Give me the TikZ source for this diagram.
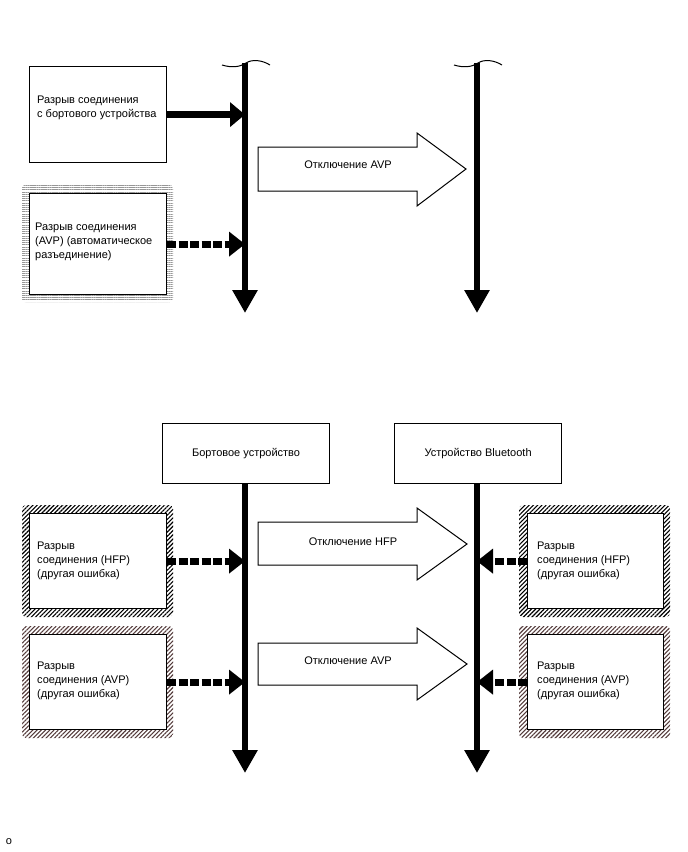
\documentclass[tikz,border=0pt]{standalone}
\usepackage{fontspec}
\setmainfont{Liberation Sans}
\usetikzlibrary{arrows.meta,patterns.meta}
\definecolor{hatchbrown}{RGB}{85,60,60}
\definecolor{hatchgray}{RGB}{150,150,150}
\begin{document}
\begin{tikzpicture}[x=1pt,y=-1pt,
  box/.style={draw=black,line width=1.2pt,fill=white,minimum width=137pt,minimum height=96pt,anchor=north west,inner sep=0pt},
  headbox/.style={draw=black,line width=1.2pt,fill=white,minimum width=167pt,minimum height=60pt,anchor=north west,inner sep=0pt,font=\fontsize{11pt}{14pt}\selectfont},
  txt/.style={anchor=west,align=left,font=\fontsize{11pt}{14pt}\selectfont,inner sep=0pt},
  ctxt/.style={anchor=center,font=\fontsize{11pt}{14pt}\selectfont,inner sep=0pt},
  lifeline/.style={line width=6pt,-{Triangle[length=23pt,width=24pt]}},
  solidconn/.style={line width=7pt,-{Triangle[length=15pt,width=24pt]}},
  dashconn/.style={line width=7pt,dash pattern=on 9pt off 2.5pt,-{Triangle[length=16pt,width=24pt]}},
  bigarrow/.style={draw=black,line width=1pt,fill=white,line join=miter},
  wave/.style={line width=1pt},
  hatchblack/.style={rounded corners=4pt,pattern={Lines[angle=45,distance=3pt,line width=1.1pt]},pattern color=black},
  hatchbr/.style={rounded corners=4pt,pattern={Lines[angle=45,distance=3pt,line width=1.1pt]},pattern color=hatchbrown},
  hatchgr/.style={rounded corners=3pt,pattern={Lines[angle=0,distance=2.2pt,line width=0.9pt]},pattern color=hatchgray}
]
\useasboundingbox (0,0) rectangle (688,852);

% ---------- top section ----------
\coordinate (t1top) at (245,63);
\coordinate (t1bot) at (245,313);
\coordinate (t2top) at (477,63);
\coordinate (t2bot) at (477,313);
\draw[lifeline] (t1top) -- (t1bot);
\draw[lifeline] (t2top) -- (t2bot);
\draw[wave] (222,65) .. controls (232,68) and (240,67) .. (246,63) .. controls (252,59) and (262,60) .. (270,65);
\draw[wave] (454,65) .. controls (464,68) and (472,67) .. (478,63) .. controls (484,59) and (494,60) .. (502,65);

\node[box] (b1) at (29,66) {};
\node[txt] (b1t) at (37,108) {Разрыв соединения\\с бортового устройства};

\fill[hatchgr] (22,185) rectangle (173,302);
\node[box,minimum height=101pt] (b2) at (29,193) {};
\node[txt] (b2t) at (35,242) {Разрыв соединения\\(AVP) (автоматическое\\разъединение)};

\draw[solidconn] (b1.east) -- (b1.east -| t1top);
\draw[dashconn] (b2.east) -- (b2.east -| t1top);

\draw[bigarrow] (258,147) -- (417,147) -- (417,133) -- (466,169) -- (417,206) -- (417,191) -- (258,191) -- cycle;
\node[ctxt] (a1t) at (348,165) {Отключение AVP};

% ---------- bottom section ----------
\node[headbox] (h1) at (162,423) {Бортовое устройство};
\node[headbox] (h2) at (394,423) {Устройство Bluetooth};
\coordinate (l1bot) at (245,773);
\coordinate (l2bot) at (477,773);
\draw[lifeline] (h1.south -| l1bot) -- (l1bot);
\draw[lifeline] (h2.south -| l2bot) -- (l2bot);

\fill[hatchblack] (22,505) rectangle (173,617);
\node[box,minimum height=95pt] (c1) at (29,513) {};
\node[txt] (c1t) at (37,561) {Разрыв\\соединения (HFP)\\(другая ошибка)};

\fill[hatchbr] (22,626) rectangle (173,738);
\node[box,minimum height=95pt] (c2) at (29,634) {};
\node[txt] (c2t) at (37,680.5) {Разрыв\\соединения (AVP)\\(другая ошибка)};

\fill[hatchblack] (519,505) rectangle (670,617);
\node[box,minimum width=136pt,minimum height=95pt] (d1) at (527,513) {};
\node[txt] (d1t) at (537,561) {Разрыв\\соединения (HFP)\\(другая ошибка)};

\fill[hatchbr] (519,626) rectangle (670,738);
\node[box,minimum width=136pt,minimum height=95pt] (d2) at (527,634) {};
\node[txt] (d2t) at (537,680.5) {Разрыв\\соединения (AVP)\\(другая ошибка)};

\draw[dashconn] (c1.east) -- (c1.east -| l1bot);
\draw[dashconn] (c2.east) -- (c2.east -| l1bot);
\draw[dashconn] (d1.west) -- (d1.west -| l2bot);
\draw[dashconn] (d2.west) -- (d2.west -| l2bot);

\draw[bigarrow] (258,522) -- (417,522) -- (417,508) -- (467,544) -- (417,580) -- (417,565) -- (258,565) -- cycle;
\node[ctxt] (a2t) at (353,542) {Отключение HFP};
\draw[bigarrow] (258,643) -- (417,643) -- (417,628) -- (467,664) -- (417,700) -- (417,685) -- (258,685) -- cycle;
\node[ctxt] (a3t) at (348,661) {Отключение AVP};

\node[ctxt] (mark) at (9,842) {o};
\end{tikzpicture}
\end{document}
